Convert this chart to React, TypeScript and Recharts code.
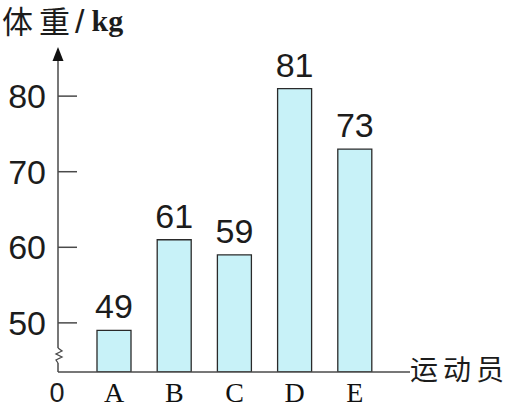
import React from 'react';
import { BarChart, Bar, XAxis, YAxis, LabelList } from 'recharts';

const categories = ['A', 'B', 'C', 'D', 'E'];
const weights = [49, 61, 59, 81, 73];
const yTicks = [50, 60, 70, 80];
const yDomain = [43.5, 86.5];

const data = categories.map((c, i) => ({ name: c, weight: weights[i] }));

const W = 509;
const H = 409;
const AXIS_X = 58;
const PLOT_TOP = 47;
const PLOT_BOTTOM = 372;
const SANS = '"Liberation Sans", Arial, sans-serif';
const SERIF = '"Liberation Serif", "Times New Roman", serif';
const CJK = '"Noto Sans CJK SC", sans-serif';
const AXIS_COLOR = '#4a4a4a';
const TEXT = '#1c1c1c';

const YTick = (props: any) => {
  const { y, payload } = props;
  return (
    <g>
      <line x1={AXIS_X} x2={AXIS_X + 19} y1={y} y2={y} stroke={AXIS_COLOR} strokeWidth={1.5} />
      <text x={46} y={y + 12} textAnchor="end" fontFamily={SANS} fontSize={34} fill={TEXT}>
        {payload.value}
      </text>
    </g>
  );
};

const XTick = (props: any) => {
  const { x, payload } = props;
  return (
    <text x={x} y={PLOT_BOTTOM + 30} textAnchor="middle" fontFamily={SERIF} fontSize={28} fill="#111">
      {payload.value}
    </text>
  );
};

export default function App() {
  return (
    <div style={{ position: 'absolute', left: 0, top: 0, width: W, height: H, background: '#fff' }}>
      <BarChart
        width={W}
        height={H}
        data={data}
        margin={{ top: PLOT_TOP, right: 99, bottom: 0, left: 0 }}
      >
        <XAxis
          dataKey="name"
          height={H - PLOT_BOTTOM}
          padding={{ left: 26, right: 25 }}
          axisLine={{ stroke: AXIS_COLOR, strokeWidth: 1.5 }}
          tickLine={false}
          tickSize={0}
          tickMargin={0}
          interval={0}
          tick={<XTick />}
        />
        <YAxis
          type="number"
          domain={yDomain}
          ticks={yTicks}
          allowDataOverflow
          width={AXIS_X}
          axisLine={false}
          tickLine={false}
          tickSize={0}
          tickMargin={0}
          tick={<YTick />}
        />
        <Bar dataKey="weight" barSize={34} fill="#c8f2f8" stroke="#2a2a2a" strokeWidth={1.3} isAnimationActive={false}>
          <LabelList
            dataKey="weight"
            position="top"
            offset={12}
            style={{ fontFamily: SANS, fontSize: 34, fill: TEXT }}
          />
        </Bar>
        <g>
          <line x1={AXIS_X} x2={AXIS_X} y1={58} y2={348} stroke={AXIS_COLOR} strokeWidth={1.5} />
          <polyline
            points={`${AXIS_X},348 ${AXIS_X + 4},351 ${AXIS_X - 2},354 ${AXIS_X + 4},357 ${AXIS_X - 2},360 ${AXIS_X},363`}
            fill="none"
            stroke={AXIS_COLOR}
            strokeWidth={1.3}
          />
          <line x1={AXIS_X} x2={AXIS_X} y1={363} y2={PLOT_BOTTOM} stroke={AXIS_COLOR} strokeWidth={1.5} />
          <polygon points={`${AXIS_X},${PLOT_TOP} ${AXIS_X - 5.5},61 ${AXIS_X + 5.5},61`} fill="#111" />
          <text x={57} y={402} textAnchor="middle" fontFamily={SANS} fontSize={27} fill={TEXT}>0</text>
          <text x={2} y={33} fill={TEXT}>
            <tspan fontFamily={CJK} fontSize={31}>体</tspan>
            <tspan fontFamily={CJK} fontSize={31} dx={6}>重</tspan>
            <tspan fontFamily={SANS} fontSize={34} dx={5}>/</tspan>
            <tspan fontFamily={SERIF} fontSize={30} fontWeight="bold" dx={7} dy={-2}>kg</tspan>
          </text>
          <text x={410} y={380} fontFamily={CJK} fontSize={28} letterSpacing={5} fill={TEXT}>运动员</text>
        </g>
      </BarChart>
    </div>
  );
}
